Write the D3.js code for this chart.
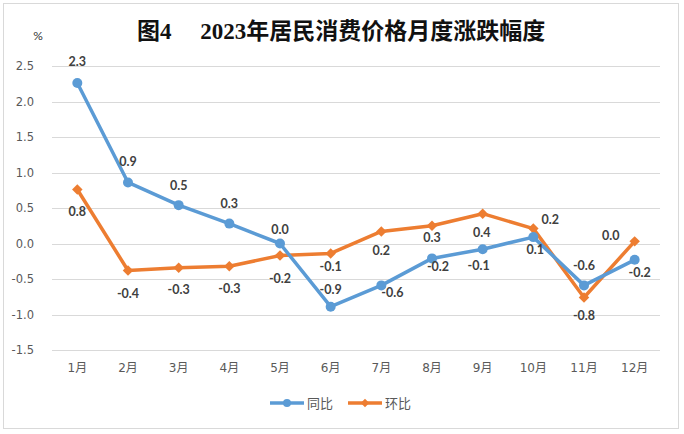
<!DOCTYPE html>
<html>
<head>
<meta charset="utf-8">
<script src="https://cdn.jsdelivr.net/npm/d3@7"></script>
<style>
  body { margin: 0; background: #fff; }
  svg text { font-family: "Lato", "Noto Sans CJK SC", sans-serif; }
</style>
</head>
<body>
<div id="container"></div>
<script>
// Chart data
var months = ["1月", "2月", "3月", "4月", "5月", "6月", "7月", "8月", "9月", "10月", "11月", "12月"];
var yoy = [2.26, 0.86, 0.54, 0.28, 0.0, -0.89, -0.59, -0.21, -0.08, 0.09, -0.59, -0.23];   // 同比
var mom = [0.76, -0.38, -0.34, -0.32, -0.17, -0.14, 0.17, 0.25, 0.42, 0.21, -0.76, 0.03];  // 环比
var yTicks = [2.5, 2.0, 1.5, 1.0, 0.5, 0.0, -0.5, -1.0, -1.5];
var seriesNames = ["同比", "环比"];

var width = 684, height = 434;
var margin = {top: 66, right: 24, bottom: 84, left: 52};

var svg = d3.select("#container").append("svg")
  .attr("width", width)
  .attr("height", height);

// outer frame
svg.append("rect")
  .attr("x", 3.5).attr("y", 3.5)
  .attr("width", 675).attr("height", 425)
  .attr("fill", "#fff")
  .attr("stroke", "#d9d9d9");

// title
svg.append("text")
  .attr("x", 341)
  .attr("y", 39)
  .attr("text-anchor", "middle")
  .style("font-family", "'Liberation Serif', 'Noto Sans CJK SC', serif")
  .style("font-size", "23px")
  .style("font-weight", "bold")
  .attr("fill", "#111")
  .text("图4\u3000 2023年居民消费价格月度涨跌幅度");

svg.append("text")
  .attr("x", 38).attr("y", 40)
  .attr("text-anchor", "middle")
  .style("font-size", "12px")
  .attr("fill", "#333")
  .text("%");

// Excel style numbers: plain hyphen instead of the unicode minus
var fmt = function(d) { return d.toFixed(1); };

var x = d3.scaleBand()
  .domain(months)
  .range([margin.left, width - margin.right]);

var y = d3.scaleLinear()
  .domain([-1.5, 2.5])
  .range([height - margin.bottom, margin.top]);

// gridlines
svg.append("g")
  .selectAll("line")
  .data(yTicks)
  .enter()
  .append("line")
  .attr("x1", margin.left)
  .attr("x2", width - margin.right)
  .attr("y1", function(d) { return Math.round(y(d)) + 0.5; })
  .attr("y2", function(d) { return Math.round(y(d)) + 0.5; })
  .attr("stroke", "#d9d9d9");

// y axis labels
var yAxis = svg.append("g")
  .attr("transform", "translate(" + (margin.left - 15) + ",0)")
  .call(d3.axisLeft(y).tickValues(yTicks).tickFormat(fmt).tickSize(0));
yAxis.select(".domain").remove();
yAxis.selectAll("text")
  .style("font-family", "'DejaVu Sans', sans-serif")
  .style("font-size", "11.5px")
  .attr("fill", "#595959");

// x axis labels
var xAxis = svg.append("g")
  .attr("transform", "translate(0," + (height - margin.bottom + 10) + ")")
  .call(d3.axisBottom(x).tickSize(0));
xAxis.select(".domain").remove();
xAxis.selectAll("text")
  .style("font-family", "'DejaVu Sans', 'Noto Sans CJK SC', sans-serif")
  .style("font-size", "12px")
  .attr("fill", "#595959");

var blue = "#5b9bd5", orange = "#ed7d31";
var cx = function(d, i) { return x(months[i]) + x.bandwidth() / 2; };

var line = d3.line()
  .x(cx)
  .y(function(d) { return y(d); });

// 环比 line
svg.append("path")
  .datum(mom)
  .attr("d", line)
  .attr("fill", "none")
  .attr("stroke", orange)
  .attr("stroke-width", 3.5)
  .attr("stroke-linejoin", "round");

var diamond = d3.symbol().type(d3.symbolDiamond2).size(70);
svg.append("g")
  .selectAll("path")
  .data(mom)
  .enter()
  .append("path")
  .attr("d", diamond)
  .attr("transform", function(d, i) { return "translate(" + cx(d, i) + "," + y(d) + ")"; })
  .attr("fill", orange);

// 同比 line
svg.append("path")
  .datum(yoy)
  .attr("d", line)
  .attr("fill", "none")
  .attr("stroke", blue)
  .attr("stroke-width", 3.5)
  .attr("stroke-linejoin", "round");

svg.append("g")
  .selectAll("circle")
  .data(yoy)
  .enter()
  .append("circle")
  .attr("cx", cx)
  .attr("cy", function(d) { return y(d); })
  .attr("r", 5)
  .attr("fill", blue);

// data label offsets (dx, dy) relative to each point
var yoyOffsets = [[0,-21],[0,-21],[0,-20],[0,-20],[0,-14],[0,-17],[11,7],[6,8],[-4,16],[2,13],[0,-20],[5,13]];
var momOffsets = [[0,22],[0,23],[0,22],[0,22],[0,23],[0,13],[0,19],[0,12],[-1,19],[17,-9],[0,18],[-24,-6]];

function addLabels(data, offsets) {
  svg.append("g")
    .selectAll("text")
    .data(data)
    .enter()
    .append("text")
    .attr("x", function(d, i) { return cx(d, i) + offsets[i][0]; })
    .attr("y", function(d, i) { return y(d) + offsets[i][1]; })
    .attr("dy", "0.35em")
    .attr("text-anchor", "middle")
    .style("font-size", "12.5px")
    .style("font-weight", "bold")
    .attr("fill", "#404040")
    .text(function(d) { return fmt(d); });
}
addLabels(yoy, yoyOffsets);
addLabels(mom, momOffsets);

// legend
var legend = svg.append("g").attr("transform", "translate(0,403)");
[[270, blue, "circle"], [348, orange, "diamond"]].forEach(function(item, i) {
  var g = legend.append("g").attr("transform", "translate(" + item[0] + ",0)");
  g.append("line")
    .attr("x1", 0).attr("x2", 34)
    .attr("stroke", item[1])
    .attr("stroke-width", 3.5);
  if (item[2] == "circle") {
    g.append("circle").attr("cx", 17).attr("r", 4).attr("fill", item[1]);
  } else {
    g.append("path").attr("d", d3.symbol().type(d3.symbolDiamond2).size(45))
      .attr("transform", "translate(17,0)").attr("fill", item[1]);
  }
  g.append("text")
    .attr("x", 37).attr("dy", "0.35em")
    .style("font-family", "'Noto Sans CJK SC', sans-serif")
    .style("font-size", "13px")
    .attr("fill", "#595959")
    .text(seriesNames[i]);
});
</script>
</body>
</html>
